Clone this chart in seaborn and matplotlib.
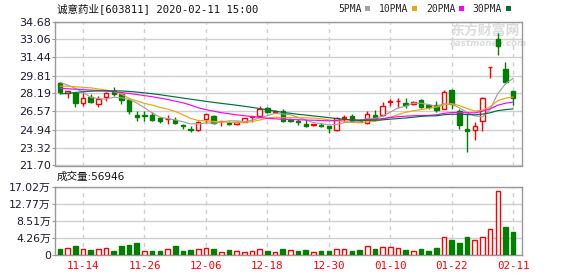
import numpy as np
import pandas as pd
import matplotlib
matplotlib.use("Agg")
import matplotlib.pyplot as plt
import seaborn as sns
from matplotlib.lines import Line2D

# ---------------- data ----------------
dates = ["11-11", "11-12", "11-13", "11-14", "11-15", "11-18", "11-19", "11-20", "11-21", "11-22",
         "11-25", "11-26", "11-27", "11-28", "11-29", "12-02", "12-03", "12-04", "12-05", "12-06",
         "12-09", "12-10", "12-11", "12-12", "12-13", "12-16", "12-17", "12-18", "12-19", "12-20",
         "12-23", "12-24", "12-25", "12-26", "12-27", "12-30", "12-31", "01-02", "01-03", "01-06",
         "01-07", "01-08", "01-09", "01-10", "01-13", "01-14", "01-15", "01-16", "01-17", "01-20",
         "01-21", "01-22", "01-23", "02-03", "02-04", "02-05", "02-06", "02-07", "02-10", "02-11"]

opens = [29.10, 28.22, 28.19, 27.36, 27.90, 27.28, 27.84, 28.43, 28.13, 27.60,
         26.25, 26.28, 26.28, 25.95, 25.85, 25.83, 25.37, 25.03, 24.88, 25.85,
         26.17, 25.70, 25.57, 25.46, 25.65, 26.03, 26.20, 26.85, 26.56, 26.62,
         25.80, 25.75, 25.45, 25.32, 25.39, 25.27, 24.94, 25.98, 26.13, 25.75,
         25.50, 26.25, 26.28, 27.45, 27.48, 27.36, 27.20, 27.57, 27.15, 27.12,
         26.82, 28.49, 26.62, 24.98, 24.92, 25.67, 30.55, 33.09, 30.42, 28.40]
highs = [29.20, 28.45, 28.22, 28.19, 28.15, 27.95, 28.30, 28.78, 28.25, 27.75,
         26.57, 26.57, 26.50, 26.10, 26.28, 26.10, 25.43, 25.28, 25.70, 26.37,
         26.23, 25.72, 25.71, 25.71, 26.00, 26.14, 27.05, 27.00, 26.66, 26.75,
         25.95, 25.90, 25.80, 25.45, 25.51, 25.30, 26.05, 26.25, 26.34, 25.90,
         26.64, 26.70, 27.45, 27.70, 27.82, 27.80, 27.54, 27.72, 27.20, 27.50,
         28.49, 28.60, 26.82, 26.41, 25.58, 27.86, 30.58, 33.60, 31.07, 28.46]
lows = [28.25, 27.75, 27.00, 27.10, 27.35, 27.00, 27.54, 27.95, 27.20, 26.33,
        25.68, 25.74, 25.70, 25.50, 25.40, 25.47, 25.00, 24.71, 24.83, 25.57,
        25.45, 25.22, 25.34, 25.34, 25.60, 25.65, 26.05, 26.45, 26.45, 25.62,
        25.60, 25.39, 25.20, 25.30, 25.20, 24.64, 24.85, 25.66, 25.66, 25.60,
        25.40, 25.80, 26.20, 27.10, 26.85, 26.90, 27.12, 26.90, 26.82, 26.56,
        26.80, 26.76, 24.98, 22.96, 24.03, 24.83, 29.59, 31.62, 29.14, 27.12]
closes = [28.30, 28.43, 27.36, 27.75, 27.39, 27.69, 28.25, 28.13, 27.60, 26.57,
          26.10, 26.13, 25.83, 25.68, 25.90, 25.53, 25.28, 24.88, 25.65, 26.31,
          25.51, 25.72, 25.46, 25.63, 25.94, 26.14, 26.75, 26.55, 26.62, 25.68,
          25.75, 25.66, 25.30, 25.42, 25.27, 25.09, 25.95, 26.05, 25.69, 25.66,
          26.34, 25.98, 27.09, 27.50, 27.53, 27.12, 27.42, 26.97, 26.94, 26.70,
          28.31, 27.21, 25.34, 24.83, 25.22, 27.80, 30.58, 32.47, 29.23, 27.74]
# volume in 万股
volumes = [1.49, 1.66, 2.24, 1.41, 1.25, 1.41, 1.66, 1.00, 2.24, 2.49,
           2.99, 1.00, 1.00, 1.00, 1.41, 2.24, 1.00, 1.25, 1.41, 1.66,
           1.41, 0.83, 1.25, 1.00, 0.75, 1.00, 1.41, 1.00, 0.66, 1.41,
           1.25, 1.00, 1.25, 0.66, 1.00, 1.00, 1.41, 1.41, 1.00, 1.25,
           2.16, 1.49, 1.91, 1.91, 1.66, 1.25, 0.91, 1.49, 1.00, 1.74,
           4.40, 3.74, 2.99, 4.48, 3.65, 4.40, 6.39, 15.94, 7.06, 5.6946]

# moving-average values for days before a full window is available
ma5_head = [29.20, 28.95, 28.65, 28.30]
ma10_head = [28.85, 28.85, 28.80, 28.75, 28.70, 28.60, 28.50, 28.35, 28.15]
ma20_head = [28.65, 28.62, 28.58, 28.54, 28.50, 28.46, 28.42, 28.36, 28.28, 28.20,
             28.10, 28.00, 27.90, 27.78, 27.65, 27.50, 27.35, 27.15, 26.90]
ma30_head = [28.15, 28.20, 28.28, 28.35, 28.40, 28.42, 28.43, 28.43, 28.42, 28.38,
             28.32, 28.25, 28.17, 28.08, 27.98, 27.88, 27.78, 27.68, 27.58, 27.48,
             27.39, 27.30, 27.22, 27.13, 27.04, 26.94, 26.83, 26.72, 26.60]

ma_names = ["5PMA", "10PMA", "20PMA", "30PMA"]
ma_windows = [5, 10, 20, 30]
ma_colors = ["#a0a0a0", "#f0a30a", "#ff00ff", "#006f3c"]

price_ticks = [21.70, 23.32, 24.94, 26.57, 28.19, 29.81, 31.44, 33.06, 34.68]
volume_ticks = [0, 4.26, 8.51, 12.77, 17.02]
title = "诚意药业[603811] 2020-02-11 15:00"

RED = "#ff0000"
GREEN = "#008000"

# ---------------- style ----------------
sns.set_theme(style="white")
plt.rcParams["font.family"] = ["DejaVu Sans", "Noto Sans CJK SC"]
plt.rcParams["axes.edgecolor"] = "#999999"

W, H = 578, 276
fig = plt.figure(figsize=(W / 100, H / 100), dpi=100)
fig.patch.set_facecolor("white")

left, right = 55, 522
ax = fig.add_axes([left / W, 1 - 165.5 / H, (right - left) / W, (165.5 - 21.5) / H])
axv = fig.add_axes([left / W, 1 - 255 / H, (right - left) / W, (255 - 186.7) / H])

n = len(dates)
x = np.arange(n)
O = np.array(opens); C = np.array(closes); Hh = np.array(highs); L = np.array(lows)
up = C >= O
ccol = [RED if u else GREEN for u in up]

# ---------------- candles ----------------
ax.vlines(x, L, Hh, colors=ccol, linewidth=1.0, zorder=2)
body_bottom = np.minimum(O, C)
body_h = np.maximum(np.abs(C - O), 0.03)
ax.bar(x, body_h, bottom=body_bottom, width=0.58,
       color=["white" if u else GREEN for u in up], edgecolor=ccol, linewidth=1.0, zorder=3)

# ---------------- moving averages ----------------
close_s = pd.Series(closes)
heads = [ma5_head, ma10_head, ma20_head, ma30_head]
frames = []
for name, win, head in zip(ma_names, ma_windows, heads):
    m = close_s.rolling(win).mean().to_numpy()
    m[:len(head)] = head
    frames.append(pd.DataFrame({"idx": x, "value": m, "ma": name}))
ma_df = pd.concat(frames, ignore_index=True)
sns.lineplot(data=ma_df, x="idx", y="value", hue="ma", hue_order=ma_names,
             palette=ma_colors, ax=ax, legend=False, linewidth=0.85,
             estimator=None, sort=False, zorder=4)

label_idx = list(range(3, n, 8))

ax.set_xlim(-0.65, n + 0.15)
ax.set_ylim(price_ticks[0], price_ticks[-1])
ax.set_yticks(price_ticks)
ax.set_yticklabels([f"{t:.2f}" for t in price_ticks])
ax.set_xticks(label_idx)
ax.set_xticklabels([])
ax.set_xlabel(""); ax.set_ylabel("")
ax.grid(False)
ax.yaxis.grid(True, color="#cfcfcf", linewidth=1.0, linestyle="-")
ax.xaxis.grid(True, color="#cfcfcf", linewidth=1.0, linestyle=(0, (3, 3)))
ax.set_axisbelow(True)
ax.tick_params(axis="y", length=2.2, width=0.8, color="#999999", labelsize=8,
               labelcolor="#1a1a2e", pad=0.8, left=True)
ax.tick_params(axis="x", length=0)
for s in ax.spines.values():
    s.set_color("#999999"); s.set_linewidth(1.0); s.set_visible(True)

# watermark
ax.text(450 / W, 1 - 31 / H, "东方财富网", transform=fig.transFigure, fontsize=10,
        family=["Noto Sans CJK SC"], fontweight="bold", color="#dcdcdc",
        ha="left", va="center", zorder=0.6)
ax.text(450 / W, 1 - 43.5 / H, "eastmoney.com", transform=fig.transFigure, fontsize=6.3,
        fontweight="bold", fontstyle="italic", color="#dcdcdc", ha="left", va="center", zorder=0.6)

# ---------------- volume ----------------
prev_close = np.r_[O[0], C[:-1]]
vol_up = C > prev_close
sns.barplot(x=x, y=volumes, native_scale=True, width=0.6, ax=axv,
            errorbar=None, color=GREEN, saturation=1)
for p, u in zip(axv.patches, vol_up):
    if u:
        p.set_facecolor("white"); p.set_edgecolor(RED)
    else:
        p.set_facecolor(GREEN); p.set_edgecolor(GREEN)
    p.set_linewidth(1.0)
    p.set_zorder(3)

axv.set_xlim(-0.65, n + 0.15)
axv.set_ylim(volume_ticks[0], volume_ticks[-1])
axv.set_yticks(volume_ticks)
axv.set_yticklabels(["0"] + [f"{t:.2f}万" for t in volume_ticks[1:]])
axv.set_xticks(label_idx)
axv.set_xticklabels([dates[i] for i in label_idx], color=RED, fontsize=7.8,
                    family=["DejaVu Sans Mono"])
axv.set_xlabel(""); axv.set_ylabel("")
axv.grid(False)
axv.yaxis.grid(True, color="#cfcfcf", linewidth=1.0, linestyle="-")
axv.xaxis.grid(True, color="#cfcfcf", linewidth=1.0, linestyle=(0, (3, 3)))
axv.set_axisbelow(True)
axv.tick_params(axis="y", length=2.2, width=0.8, color="#999999", labelsize=7.8,
                labelcolor="#1a1a2e", pad=0.8, left=True)
axv.tick_params(axis="x", length=0, pad=4.5)
for s in axv.spines.values():
    s.set_color("#999999"); s.set_linewidth(1.0); s.set_visible(True)

# ---------------- texts ----------------
fig.text(57 / W, 1 - 8.5 / H, title, fontsize=7.6, ha="left", va="center",
         family=["DejaVu Sans Mono", "Noto Sans CJK SC"], color="#111111")
fig.text(57 / W, 1 - 176.7 / H, f"成交量:{round(volumes[-1] * 10000)}", fontsize=7.6,
         ha="left", va="center", family=["DejaVu Sans", "Noto Sans CJK SC"], color="#111111")

handles = [Line2D([], [], marker="s", linestyle="", markersize=3.6, color=c,
                  markeredgewidth=0) for c in ma_colors]
fig.legend(handles, ma_names, loc="center", bbox_to_anchor=(424.5 / W, 1 - 8.5 / H),
           ncol=4, frameon=False, markerfirst=False, handlelength=0.6, handletextpad=0.3,
           columnspacing=0.9, borderpad=0, borderaxespad=0,
           prop={"family": "DejaVu Sans Mono", "size": 7})

fig.savefig("out.png", dpi=100, facecolor="white")
